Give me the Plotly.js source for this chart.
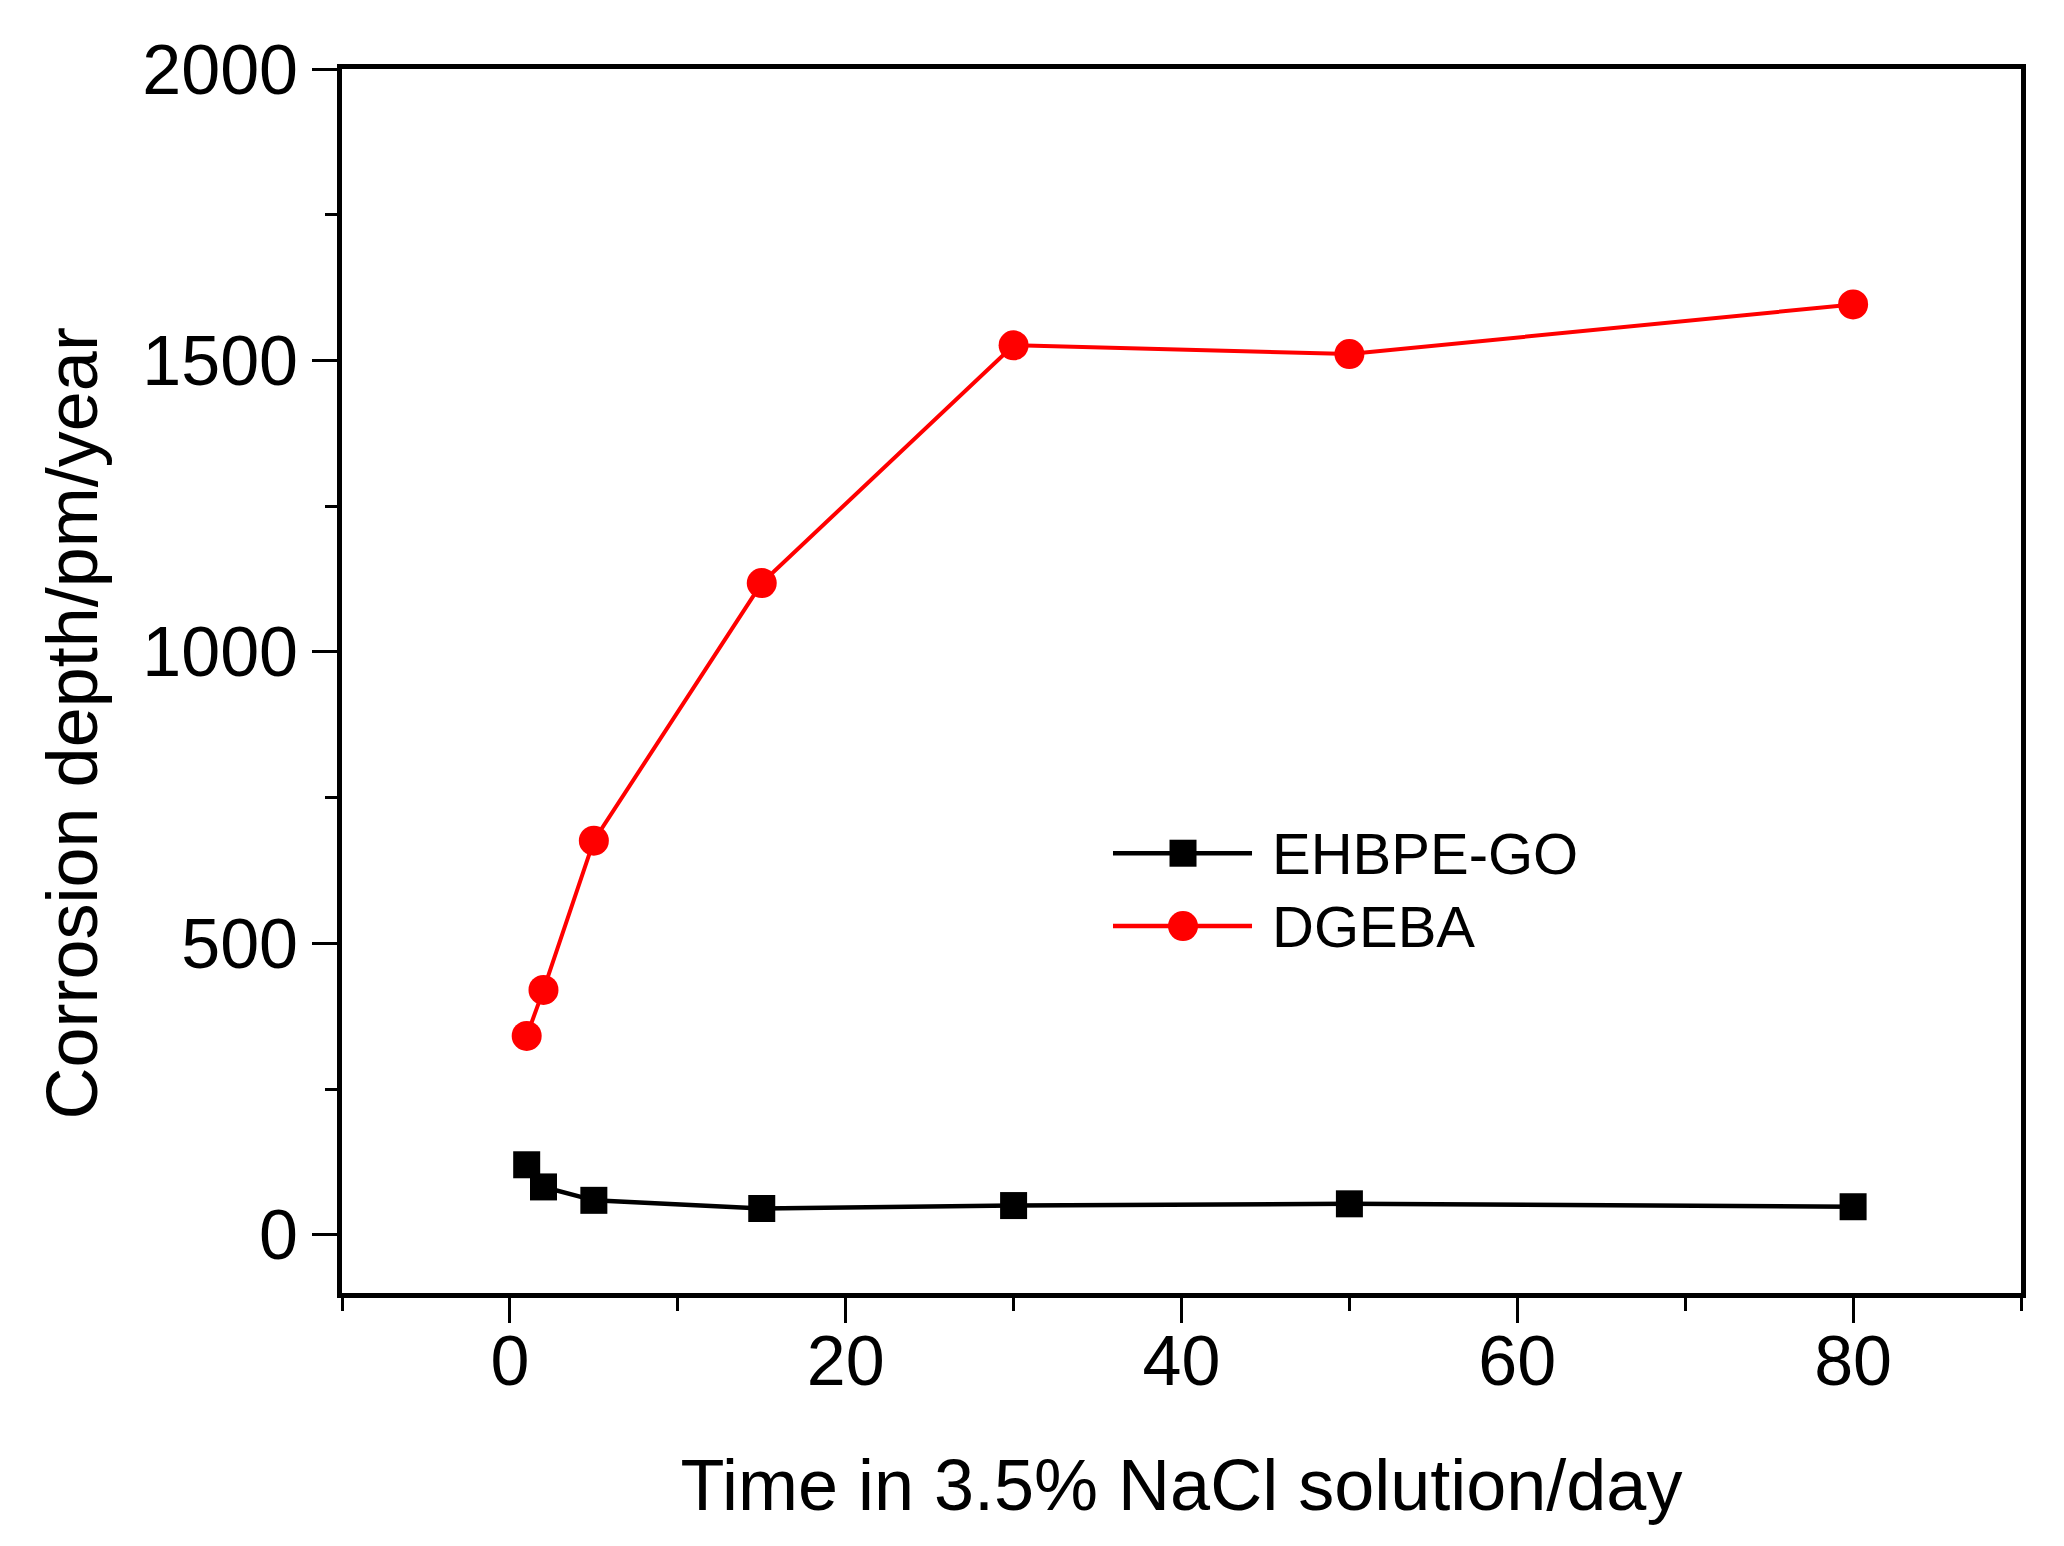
<!DOCTYPE html>
<html>
<head>
<meta charset="utf-8">
<script src="https://cdn.plot.ly/plotly-3.0.1.min.js"></script>
<style>
  body { margin: 0; background: #fff; }
  #myDiv { width: 2064px; height: 1546px; }
</style>
</head>
<body>
<div id="myDiv"></div>
<script>
// immersion time (days)
const days = [1, 2, 5, 15, 30, 50, 80]

// corrosion depth
const ehbpeGO = [120, 82, 59, 45, 50, 53, 48]
const dgeba = [341, 420, 676, 1118, 1526, 1511, 1596]

const seriesNames = ["EHBPE-GO", "DGEBA"]
const seriesColors = ["#000000", "#ff0000"]

const xTicks = [0, 20, 40, 60, 80]
const yTicks = [0, 500, 1000, 1500, 2000]

const xTitle = "Time in 3.5% NaCl solution/day"
const yTitle = "Corrosion depth/pm/year"

const fonte = "Liberation Sans, Arial, sans-serif"

const tr1 = {
  x: days,
  y: ehbpeGO,
  mode: "lines+markers",
  type: "scatter",
  name: seriesNames[0],
  line: { color: seriesColors[0], width: 4.5 },
  marker: { symbol: "square", size: 27, color: seriesColors[0] },
}
const tr2 = {
  x: days,
  y: dgeba,
  mode: "lines+markers",
  type: "scatter",
  name: seriesNames[1],
  line: { color: seriesColors[1], width: 4 },
  marker: { symbol: "circle", size: 30, color: seriesColors[1] },
}

// legenda desenhada a mao (a do plotly limita o tamanho do marcador)
const legY = [0.3593, 0.2998]
const shapes = []
const annotations = []
for (let i = 0; i < seriesNames.length; i++) {
  shapes.push({
    type: "line", xref: "paper", yref: "paper",
    x0: 0.4592, x1: 0.542, y0: legY[i], y1: legY[i],
    line: { color: seriesColors[i], width: 4.5 },
  })
  const r = i == 0 ? 13.5 : 15
  shapes.push({
    type: i == 0 ? "rect" : "circle",
    xref: "paper", yref: "paper",
    xsizemode: "pixel", ysizemode: "pixel",
    xanchor: 0.5009, yanchor: legY[i],
    x0: -r, x1: r, y0: -r, y1: r,
    fillcolor: seriesColors[i],
    line: { width: 0 },
  })
  annotations.push({
    xref: "paper", yref: "paper",
    x: 0.5527, y: legY[i],
    xanchor: "left", yanchor: "middle",
    text: seriesNames[i],
    showarrow: false,
    font: { family: fonte, size: 58, color: "#000" },
  })
}

// titulo do eixo y como anotacao para acertar a posicao vertical
annotations.push({
  xref: "paper", yref: "paper",
  x: -0.161, y: 0.465,
  xanchor: "center", yanchor: "middle",
  textangle: -90,
  text: yTitle,
  showarrow: false,
  font: { family: fonte, size: 72, color: "#000" },
})

const eixo = {
  showgrid: false,
  zeroline: false,
  showline: true,
  linewidth: 5,
  linecolor: "#000",
  mirror: true,
  ticks: "outside",
  ticklen: 25,
  tickwidth: 3,
  tickcolor: "#000",
  tickfont: { family: fonte, size: 70, color: "#000" },
}

const layout = {
  width: 2064,
  height: 1546,
  margin: { l: 342, r: 43, t: 69, b: 253 },
  paper_bgcolor: "#ffffff",
  plot_bgcolor: "#ffffff",
  showlegend: false,
  xaxis: Object.assign({}, eixo, {
    range: [-10, 90],
    tickvals: xTicks,
    ticklabelstandoff: -22,
    minor: { dtick: 10, tick0: 0, ticks: "outside", ticklen: 13, tickwidth: 3, tickcolor: "#000" },
    title: {
      text: xTitle,
      font: { family: fonte, size: 72, color: "#000" },
      standoff: 62,
    },
  }),
  yaxis: Object.assign({}, eixo, {
    range: [-100, 2000],
    tickvals: yTicks,
    ticklabelstandoff: 0,
    minor: { dtick: 250, tick0: 0, ticks: "outside", ticklen: 12, tickwidth: 3, tickcolor: "#000" },
  }),
  shapes: shapes,
  annotations: annotations,
}

Plotly.newPlot("myDiv", [tr1, tr2], layout, { staticPlot: true })
</script>
</body>
</html>
